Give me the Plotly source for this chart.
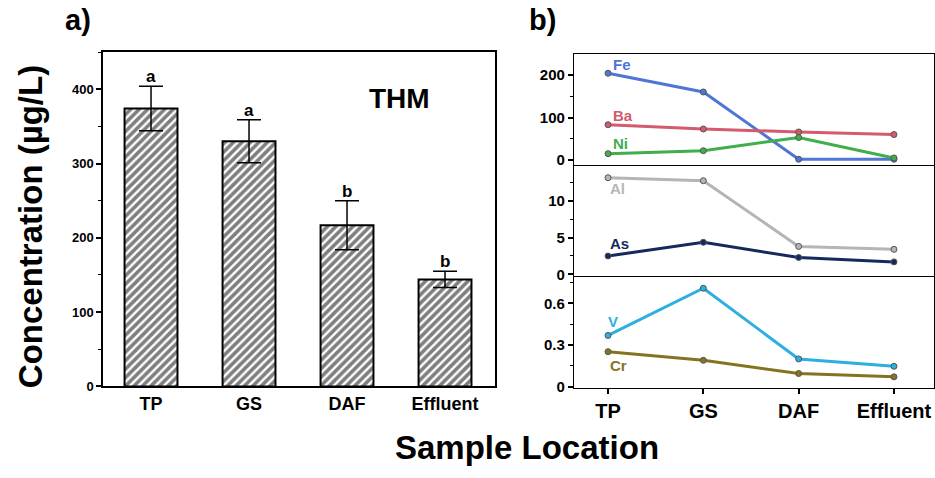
import plotly.graph_objects as go

FONT = "Liberation Sans, Arial, sans-serif"

# ---- data ----
locations = ["TP", "GS", "DAF", "Effluent"]
thm_values = [374, 330, 217, 144]
thm_errors = [30, 29, 33, 11]
thm_letters = ["a", "a", "b", "b"]

fe = [204, 160, 2, 2]
ba = [83, 73, 66, 60]
ni = [15, 22, 53, 5]
al = [13.1, 12.7, 3.8, 3.4]
as_ = [2.5, 4.35, 2.3, 1.7]
v = [0.369, 0.709, 0.20, 0.147]
cr = [0.252, 0.19, 0.095, 0.071]

top_ticks = [0, 100, 200]
mid_ticks = [0, 5, 10]
bot_ticks = [0, 0.3, 0.6]
thm_ticks = [0, 100, 200, 300, 400]

W, H = 935, 478
def px(x):
    return x / W
def py(y):
    return (H - y) / H

fig = go.Figure()

# ---- panel a: bars ----
fig.add_trace(go.Bar(
    x=locations, y=thm_values, width=0.54,
    marker=dict(color="white", line=dict(color="black", width=2),
                pattern=dict(shape="/", fgcolor="black", bgcolor="white", size=6, solidity=0.6)),
    error_y=dict(type="data", array=thm_errors, visible=True, color="black", thickness=1.5, width=12),
    xaxis="x", yaxis="y", showlegend=False,
))

annotations = []
for loc, val, err, let in zip(locations, thm_values, thm_errors, thm_letters):
    annotations.append(dict(x=loc, y=val + err, xref="x", yref="y", text=let, showarrow=False,
                            yanchor="bottom", yshift=-2,
                            font=dict(family=FONT, size=17, color="black", weight="bold")))
annotations.append(dict(x=2.54, y=388, xref="x", yref="y", text="THM", showarrow=False,
                        font=dict(family=FONT, size=28, color="black", weight="bold")))

# ---- panel b: lines ----
series = [
    ("Fe", fe, "#4f75d6", "x2", "y2", 211, 66),
    ("Ba", ba, "#d45a6e", "x2", "y2", 211, 117),
    ("Ni", ni, "#3fae4b", "x2", "y2", 211, 146),
    ("Al", al, "#b5b5b5", "x3", "y3", 208, 192),
    ("As", as_, "#142a5c", "x3", "y3", 208, 248),
    ("V", v, "#2bb0e0", "x4", "y4", 206, 327),
    ("Cr", cr, "#86731f", "x4", "y4", 208, 372),
]
for name, vals, col, xa, ya, lx, ly in series:
    fig.add_trace(go.Scatter(
        x=locations, y=vals, mode="lines+markers", name=name,
        line=dict(color=col, width=3),
        marker=dict(symbol="circle", size=6, color=col, line=dict(color="#555555", width=1)),
        xaxis=xa, yaxis=ya, showlegend=False,
    ))
    annotations.append(dict(x=px(400 + lx), y=py(ly), xref="paper", yref="paper", text=name,
                            showarrow=False, xanchor="left", yanchor="middle",
                            font=dict(family=FONT, size=15, color=col, weight="bold")))

# panel labels and titles
annotations += [
    dict(x=px(63), y=py(20), xref="paper", yref="paper", text="a)", showarrow=False,
         xanchor="left", yanchor="middle", font=dict(family=FONT, size=29, color="black", weight="bold")),
    dict(x=px(527), y=py(20), xref="paper", yref="paper", text="b)", showarrow=False,
         xanchor="left", yanchor="middle", font=dict(family=FONT, size=29, color="black", weight="bold")),
    dict(x=px(30), y=py(231), xref="paper", yref="paper", text="Concentration (µg/L)", showarrow=False,
         textangle=-90, xanchor="center", yanchor="middle",
         font=dict(family=FONT, size=33, color="black", weight="bold")),
    dict(x=px(527), y=py(455), xref="paper", yref="paper", text="Sample Location", showarrow=False,
         xanchor="center", yanchor="middle",
         font=dict(family=FONT, size=33, color="black", weight="bold")),
]

def ax(mirror=True, lw=1.5):
    return dict(showgrid=False, zeroline=False, showline=True, linecolor="black", linewidth=lw,
                mirror=mirror)

tickfont_a = dict(family=FONT, size=13, color="black", weight="bold")
tickfont_b = dict(family=FONT, size=15, color="black", weight="bold")
xfont_a = dict(family=FONT, size=18, color="black", weight="bold")
xfont_b = dict(family=FONT, size=20, color="black", weight="bold")

xb_range = [-0.357, 3.42]
xb_dom = [px(574), px(934)]

fig.update_layout(
    width=W, height=H, margin=dict(l=0, r=0, t=0, b=0),
    paper_bgcolor="white", plot_bgcolor="white",
    xaxis=dict(domain=[px(103), px(495)], anchor="y", range=[-0.49, 3.51], ticks="",
               tickfont=xfont_a, **ax()),
    yaxis=dict(domain=[py(393), py(53)], anchor="x", range=[0, 450], tickvals=thm_ticks,
               ticks="outside", ticklen=5, tickwidth=1.5, tickcolor="black", tickfont=tickfont_a,
               minor=dict(dtick=50, ticks="outside", ticklen=3, tickcolor="black", tickwidth=1),
               **ax()),
    xaxis2=dict(domain=xb_dom, anchor="y2", range=xb_range, showticklabels=False, ticks="",
                **ax(True, 1.2)),
    yaxis2=dict(domain=[py(168), py(55)], anchor="x2", range=[-12, 249], tickvals=top_ticks,
                ticks="outside", ticklen=5, tickwidth=1.5, tickcolor="black", tickfont=tickfont_b,
                minor=dict(dtick=50, ticks="outside", ticklen=3, tickcolor="black", tickwidth=1),
                **ax(True, 1.2)),
    xaxis3=dict(domain=xb_dom, anchor="y3", range=xb_range, showticklabels=False, ticks="",
                **ax(False, 1.2)),
    yaxis3=dict(domain=[py(281), py(168)], anchor="x3", range=[-0.25, 14.8], tickvals=mid_ticks,
                ticks="outside", ticklen=5, tickwidth=1.5, tickcolor="black", tickfont=tickfont_b,
                minor=dict(dtick=2.5, ticks="outside", ticklen=3, tickcolor="black", tickwidth=1),
                **ax(True, 1.2)),
    xaxis4=dict(domain=xb_dom, anchor="y4", range=xb_range, ticks="outside", ticklen=5,
                tickwidth=1.5, tickcolor="black", tickfont=xfont_b, **ax(False, 1.2)),
    yaxis4=dict(domain=[py(395), py(281)], anchor="x4", range=[-0.012, 0.795], tickvals=bot_ticks,
                ticks="outside", ticklen=5, tickwidth=1.5, tickcolor="black", tickfont=tickfont_b,
                minor=dict(dtick=0.15, ticks="outside", ticklen=3, tickcolor="black", tickwidth=1),
                **ax(True, 1.2)),
    annotations=annotations,
)

fig.write_html("out.html")
